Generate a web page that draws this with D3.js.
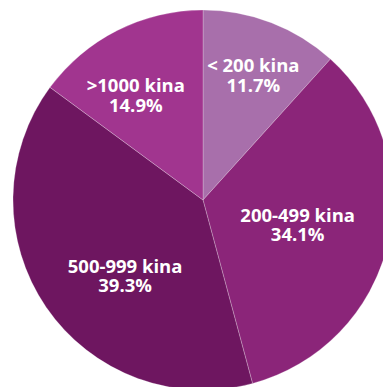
<!DOCTYPE html>
<html>
<head>
<meta charset="utf-8">
<script src="https://cdn.jsdelivr.net/npm/d3@7"></script>
<style>
  html, body { margin: 0; padding: 0; background: #ffffff; }
  svg { display: block; }
</style>
</head>
<body>
<svg id="chart" width="383" height="387"></svg>
<script>
const categories = ["< 200 kina", "200-499 kina", "500-999 kina", ">1000 kina"];
const values = [11.7, 34.1, 39.3, 14.9];
const percentLabels = ["11.7%", "34.1%", "39.3%", "14.9%"];
const colors = ["#a86fab", "#8b2579", "#6e1660", "#a1358f"];

// label placement (layout only): radius and angle nudge (degrees)
const labelLayout = [
  { r: 134, da: 1 },
  { r: 98, da: 1.5 },
  { r: 109, da: -10 },
  { r: 124, da: -6 }
];

const W = 383, H = 387;
const cx = 203, cy = 200, R = 190;

const svg = d3.select("#chart");
const g = svg.append("g").attr("transform", `translate(${cx},${cy})`);

const pie = d3.pie().sort(null).value(d => d.v);
const data = categories.map((c, i) => ({ c, v: values[i], p: percentLabels[i], col: colors[i], i }));
const arcs = pie(data);
const arc = d3.arc().innerRadius(0).outerRadius(R);

g.selectAll("path.slice")
  .data(arcs)
  .join("path")
  .attr("class", "slice")
  .attr("d", arc)
  .attr("fill", d => d.data.col)
  .attr("stroke", "rgba(255,255,255,0.3)")
  .attr("stroke-width", 0.8);

const labels = g.selectAll("text.lbl")
  .data(arcs)
  .join("text")
  .attr("class", "lbl")
  .attr("transform", d => {
    const L = labelLayout[d.data.i];
    const a = (d.startAngle + d.endAngle) / 2 + L.da * Math.PI / 180;
    const x = Math.sin(a) * L.r;
    const y = -Math.cos(a) * L.r;
    return `translate(${x},${y})`;
  })
  .attr("text-anchor", "middle")
  .attr("fill", "#ffffff")
  .style("font-family", "'Open Sans', sans-serif")
  .style("font-weight", "700")
  .style("font-size", "18.5px");

labels.append("tspan").attr("x", 0).attr("y", -3.5).text(d => d.data.c);
labels.append("tspan").attr("x", 0).attr("y", 16).text(d => d.data.p);
</script>
</body>
</html>
